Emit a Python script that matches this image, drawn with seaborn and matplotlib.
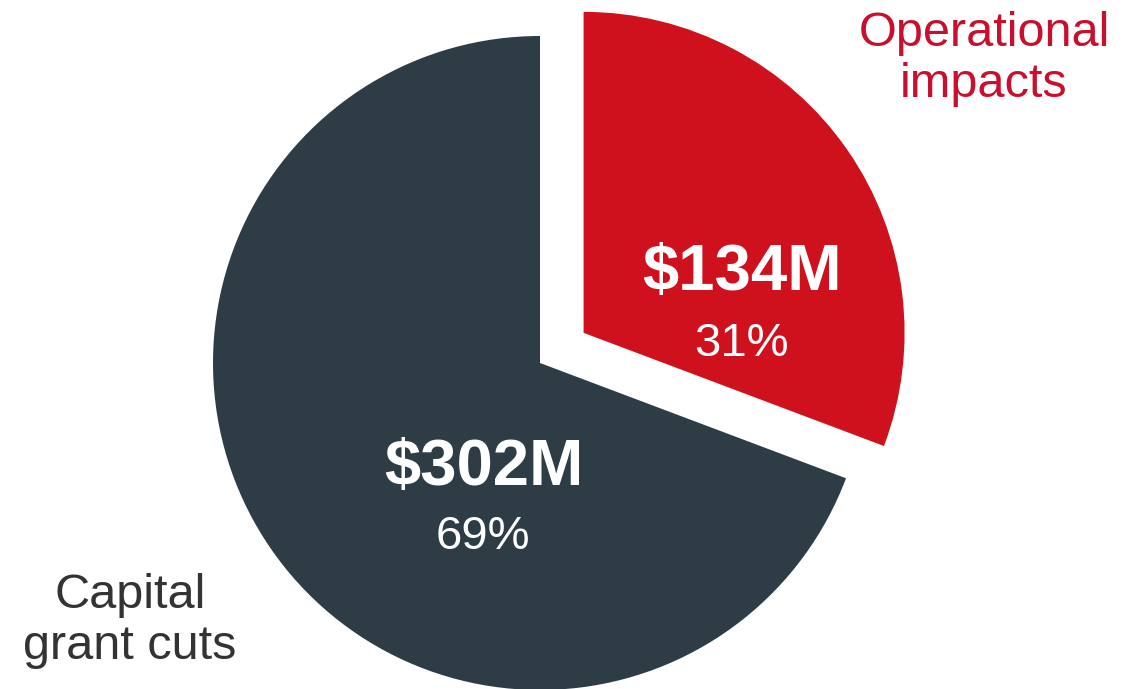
import numpy as np
import pandas as pd
import seaborn as sns
import matplotlib.pyplot as plt

categories = ['Operational\nimpacts', 'Capital\ngrant cuts']
amounts = [134, 302]            # $M
amount_labels = ['$134M', '$302M']
pct_labels = ['31%', '69%']
colors = ['#cf111d', '#2e3c45']
label_colors = ['#c8102e', '#333333']

sns.set_theme(style='white')
plt.rcParams['font.family'] = ['Liberation Sans', 'DejaVu Sans']

W, H = 1139, 689
fig = plt.figure(figsize=(W / 100, H / 100), dpi=100)
ax = fig.add_axes([0, 0, 1, 1])

center = (540, 326)
radius = 327
wedges, _ = ax.pie(amounts, colors=colors, startangle=90, counterclock=False,
                   explode=[53, 0], center=center, radius=radius,
                   wedgeprops=dict(linewidth=0))
# the pulled-out slice is drawn a little smaller in the original
wedges[0].set_radius(321)

# value labels inside slices
ax.text(742, 416, amount_labels[0], color='white', fontsize=47, fontweight='bold', ha='center', va='center')
ax.text(741, 345, pct_labels[0], color='white', fontsize=34, ha='center', va='center')
ax.text(484, 221, amount_labels[1], color='white', fontsize=47, fontweight='bold', ha='center', va='center')
ax.text(483, 152, pct_labels[1], color='white', fontsize=34, ha='center', va='center')

# category labels
ax.text(984, 630, categories[0], color=label_colors[0], fontsize=35, ha='center', va='center', linespacing=1.15)
ax.text(130, 68, categories[1], color=label_colors[1], fontsize=35, ha='center', va='center', linespacing=1.15)

ax.set_xlim(0, W)
ax.set_ylim(0, H)
ax.set_aspect('equal')
ax.axis('off')

fig.savefig('out.png', dpi=100, facecolor='white')
